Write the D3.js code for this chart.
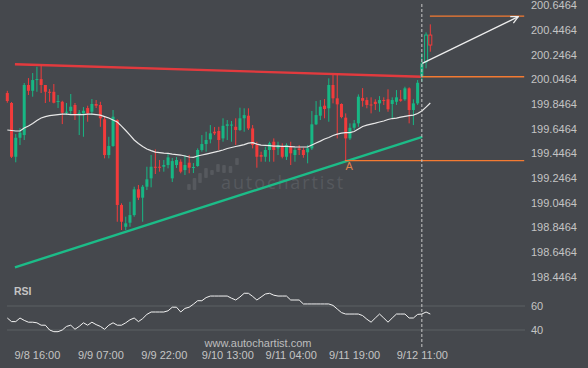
<!DOCTYPE html>
<html>
<head>
<meta charset="utf-8">
<script src="https://cdn.jsdelivr.net/npm/d3@7"></script>
<style>
  html, body { margin: 0; padding: 0; background: #45484d; }
  svg { display: block; }
</style>
</head>
<body>
<svg width="588" height="368"></svg>
<script>
// hourly candles, 9/8 09:00 .. 9/12 13:00
const opens = [199.927,199.846,199.410,199.564,199.586,199.992,199.945,200.032,200.040,199.992,
  199.937,199.937,199.856,199.856,199.767,199.781,199.830,199.748,199.762,199.805,
  199.775,199.838,199.830,199.714,199.424,199.497,199.708,199.019,198.842,198.875,
  198.937,199.146,199.078,199.167,199.235,199.329,199.329,199.329,199.343,199.235,
  199.343,199.370,199.302,199.362,199.321,199.335,199.465,199.513,199.551,199.613,
  199.619,199.559,199.661,199.663,199.653,199.627,199.722,199.743,199.640,199.505,
  199.424,199.410,199.465,199.532,199.478,199.491,199.410,199.491,199.424,199.478,
  199.465,199.446,199.478,199.673,199.743,199.824,199.803,199.992,199.884,199.838,
  199.727,199.559,199.645,199.681,199.886,199.870,199.834,199.856,199.843,199.870,
  199.876,199.838,199.856,199.876,199.876,199.965,199.789,199.843,200.059,200.181,
  200.397];
const highs = [199.945,199.854,199.594,199.643,200.008,200.048,200.089,200.140,200.154,199.992,
  199.959,200.000,199.911,199.864,199.846,199.919,199.846,199.789,199.813,199.824,
  199.878,199.870,199.856,199.735,199.572,199.789,199.714,199.032,198.924,199.045,
  199.167,199.181,199.181,199.329,199.424,199.470,199.384,199.384,199.438,199.400,
  199.408,199.389,199.424,199.424,199.359,199.478,199.586,199.613,199.667,199.651,
  199.653,199.722,199.708,199.700,199.722,199.808,199.803,199.803,199.667,199.532,
  199.451,199.491,199.532,199.559,199.532,199.519,199.519,199.532,199.484,199.505,
  199.484,199.505,199.781,199.862,199.870,199.878,200.046,200.073,200.079,199.843,
  199.762,199.681,199.708,199.916,199.967,199.892,199.892,199.876,199.902,199.892,
  199.957,199.892,199.951,199.951,199.978,199.973,199.876,200.032,200.249,200.419,
  200.484];
const lows = [199.848,199.400,199.365,199.505,199.546,199.911,199.897,199.937,199.927,199.846,
  199.856,199.843,199.805,199.675,199.748,199.748,199.708,199.586,199.572,199.694,
  199.748,199.805,199.653,199.397,199.397,199.491,198.883,198.816,198.816,198.842,
  198.924,199.059,198.883,199.140,199.162,199.270,199.289,199.289,199.316,199.205,
  199.319,199.276,199.262,199.276,199.278,199.329,199.451,199.451,199.519,199.586,
  199.465,199.532,199.546,199.532,199.505,199.619,199.613,199.627,199.478,199.321,
  199.370,199.370,199.370,199.370,199.424,199.397,199.384,199.343,199.370,199.424,
  199.402,199.357,199.465,199.667,199.708,199.722,199.694,199.843,199.559,199.722,
  199.378,199.546,199.627,199.653,199.816,199.803,199.762,199.789,199.775,199.830,
  199.775,199.722,199.830,199.856,199.864,199.681,199.667,199.830,200.018,200.127,
  200.262];
const closes = [199.862,199.410,199.564,199.605,199.992,199.945,200.032,200.040,199.992,199.937,
  199.929,199.848,199.862,199.767,199.775,199.816,199.756,199.767,199.783,199.762,
  199.838,199.824,199.722,199.424,199.497,199.735,199.019,198.883,198.870,198.937,
  199.146,199.078,199.167,199.227,199.329,199.321,199.321,199.343,199.405,199.375,
  199.384,199.289,199.343,199.321,199.327,199.465,199.513,199.546,199.600,199.600,
  199.546,199.661,199.673,199.671,199.627,199.722,199.748,199.640,199.505,199.410,
  199.410,199.465,199.519,199.465,199.505,199.410,199.505,199.438,199.465,199.465,
  199.424,199.478,199.673,199.748,199.816,199.797,199.992,199.884,199.835,199.732,
  199.559,199.645,199.681,199.897,199.864,199.830,199.826,199.838,199.870,199.862,
  199.795,199.870,199.892,199.864,199.965,199.789,199.843,200.010,200.168,200.397,
  200.316];
// moving average
const maValues = [199.627,199.623,199.619,199.619,199.643,199.659,199.679,199.704,199.724,199.736,
  199.744,199.748,199.752,199.756,199.755,199.752,199.752,199.751,199.752,199.755,
  199.756,199.752,199.748,199.736,199.724,199.708,199.692,199.659,199.623,199.586,
  199.546,199.517,199.493,199.473,199.460,199.448,199.444,199.440,199.438,199.432,
  199.428,199.424,199.416,199.408,199.405,199.416,199.424,199.432,199.440,199.448,
  199.456,199.465,199.477,199.485,199.493,199.501,199.509,199.521,199.525,199.513,
  199.505,199.503,199.500,199.497,199.497,199.495,199.494,199.492,199.490,199.489,
  199.489,199.489,199.505,199.521,199.537,199.554,199.566,199.582,199.594,199.602,
  199.605,199.606,199.615,199.635,199.655,199.667,199.675,199.683,199.692,199.700,
  199.712,199.720,199.724,199.732,199.738,199.743,199.748,199.761,199.781,199.813,
  199.846];
const rsiValues = [50,47,47,50,48,46.5,46.5,46,44,44,
  40,38.6,38.6,40,43,44,40.6,43,46,44,
  46.5,44.5,43,40.6,44,46,44,44,46,48.5,
  50,47,49.5,53,55,55,55,55,56,59,
  59,55,58,59,61.5,64.4,64.4,67,68.3,68.3,
  68.3,68.3,68.3,66.5,65,67.5,70.6,70.6,68,65,
  67.5,70,70.6,69,68.3,68.3,68.3,65,65,65,
  61.7,61.7,61.7,61.7,61.7,61.7,61.7,60.5,57.5,54.5,
  53.3,53.3,53.3,53.3,52,49,46.5,50,53.3,50,
  46.5,50,53.3,53.3,53.3,50,50,53,53.3,55,
  53.3];

const priceTicks = [198.4464,198.6464,198.8464,199.0464,199.2464,199.4464,
  199.6464,199.8464,200.0464,200.2464,200.4464,200.6464];
const rsiTicks = [40, 60];
const timeTickIdx = [7, 22, 37, 52, 67, 82, 98];
const timeTickLabels = ["9/8 16:00","9/9 07:00","9/9 22:00","9/10 13:00","9/11 04:00","9/11 19:00","9/12 11:00"];

// pattern drawing: [candle index, price]
const resistance = [[1.8, 200.160], [98, 200.059]];
const support = [[1.8, 198.513], [98.1, 199.572]];
const levelTop = [[99.9, 200.551], [122.2, 200.551]];
const levelMid = [[98, 200.059], [122.2, 200.059]];
const levelLow = [[79.8, 199.378], [122.2, 199.378]];
const forecast = [[98.1, 200.168], [120.8, 200.546]];
const pointA = [80.8, 199.33];
const breakIdx = 98;
const hollowFrom = 99;

const svg = d3.select("svg");
const font = "'Liberation Sans', Arial, sans-serif";

const x = d3.scaleLinear().domain([0, 100]).range([7.3, 430.3]);
const y = d3.scaleLinear().domain([198.4105, 200.6814]).range([280, 0]);
const yR = d3.scaleLinear().domain([40, 60]).range([330, 306]);

svg.append("rect").attr("width", 588).attr("height", 368).attr("fill", "#45484d");

// watermark
const wm = svg.append("g").attr("fill", "#56595e");
[[189, 184, 190], [194.5, 178, 190], [200, 173, 183], [206, 168, 178], [212, 170, 175],
 [218, 164, 172], [224, 165, 173], [230.5, 166, 173], [237, 158, 165]].forEach(b => {
  wm.append("rect").attr("x", b[0] - 1.8).attr("y", b[1]).attr("width", 3.6)
    .attr("height", b[2] - b[1]).attr("rx", 1);
});
wm.append("text").attr("x", 221).attr("y", 189).text("autochartist")
  .style("font-family", "'Open Sans', sans-serif").style("font-size", "18px")
  .style("letter-spacing", "1.9px");

// rsi grid
svg.append("g").selectAll("line").data(rsiTicks).enter().append("line")
  .attr("x1", 7).attr("x2", 525)
  .attr("y1", d => yR(d)).attr("y2", d => yR(d))
  .attr("stroke", "#5d6065").attr("stroke-width", 1);

const line = d3.line().x(d => x(d[0])).y(d => y(d[1]));

svg.append("path").attr("d", line(support)).attr("fill", "none")
  .attr("stroke", "#1cbc88").attr("stroke-width", 2.4);
svg.append("path").attr("d", line(resistance)).attr("fill", "none")
  .attr("stroke", "#f03a3d").attr("stroke-width", 2.4).attr("opacity", 0.92);

// candles
const candles = opens.map((o, i) => ({ i, o, h: highs[i], l: lows[i], c: closes[i] }));
const up = "#17b784", down = "#f23b3b";
const cg = svg.append("g").selectAll("g").data(candles).enter().append("g");
cg.append("line")
  .attr("x1", d => x(d.i)).attr("x2", d => x(d.i))
  .attr("y1", d => y(d.h)).attr("y2", d => y(d.l))
  .attr("stroke", d => d.c >= d.o ? up : down).attr("stroke-width", 1);
cg.append("rect")
  .attr("x", d => x(d.i) - 1.5)
  .attr("y", d => y(Math.max(d.o, d.c)))
  .attr("width", 3)
  .attr("height", d => Math.max(1, Math.abs(y(d.o) - y(d.c))))
  .attr("fill", d => d.i >= hollowFrom ? "#45484d" : (d.c >= d.o ? up : down))
  .attr("stroke", d => d.i >= hollowFrom ? (d.c >= d.o ? up : down) : "none")
  .attr("stroke-width", 1);

// moving average
svg.append("path")
  .attr("d", d3.line().x((d, i) => x(i)).y(d => y(d))(maValues))
  .attr("fill", "none").attr("stroke", "#e8e8e8").attr("stroke-width", 1.2);

// levels
const orange = "#f47a32";
[levelTop, levelMid, levelLow].forEach(l => {
  svg.append("path").attr("d", line(l)).attr("fill", "none")
    .attr("stroke", orange).attr("stroke-width", 1.3);
});
svg.append("text").attr("x", x(pointA[0])).attr("y", y(pointA[1]))
  .attr("text-anchor", "middle").attr("dy", "0.35em").text("A")
  .style("font-family", font).style("font-size", "11px").attr("fill", "#e0824a");

// forecast arrow
svg.append("defs").append("marker").attr("id", "arr")
  .attr("viewBox", "0 0 10 10").attr("refX", 9).attr("refY", 5)
  .attr("markerWidth", 9).attr("markerHeight", 9).attr("markerUnits", "userSpaceOnUse")
  .attr("orient", "auto")
  .append("path").attr("d", "M1,1 L9,5 L1,9").attr("fill", "none")
  .attr("stroke", "#eeeeee").attr("stroke-width", 1.4);
svg.append("path").attr("d", line(forecast)).attr("fill", "none")
  .attr("stroke", "#eeeeee").attr("stroke-width", 1.3).attr("marker-end", "url(#arr)");

// breakout time
svg.append("line").attr("x1", x(breakIdx)).attr("x2", x(breakIdx))
  .attr("y1", 4).attr("y2", 348)
  .attr("stroke", "#c8c8c8").attr("stroke-width", 1).attr("stroke-dasharray", "3,2");

// rsi line
svg.append("path")
  .attr("d", d3.line().x((d, i) => x(i)).y(d => yR(d))(rsiValues))
  .attr("fill", "none").attr("stroke", "#f2f2f2").attr("stroke-width", 1);

svg.append("text").attr("x", 14).attr("y", 295).text("RSI")
  .style("font-family", font).style("font-size", "10.5px").style("font-weight", "bold")
  .attr("fill", "#c4c4c4");

// axes
function styleAxis(g) {
  g.select(".domain").remove();
  g.selectAll("text").attr("fill", "#c4c4c4")
    .style("font-family", font).style("font-size", "11px");
}
svg.append("g").attr("transform", "translate(531,0)")
  .call(d3.axisRight(y).tickValues(priceTicks).tickSize(0).tickPadding(0)
    .tickFormat(d3.format(".4f")))
  .call(styleAxis)
  .call(g => g.selectAll("text").attr("dy", "0.42em"));
svg.append("g").attr("transform", "translate(531,0)")
  .call(d3.axisRight(yR).tickValues(rsiTicks).tickSize(0).tickPadding(0))
  .call(styleAxis);
svg.append("g").attr("transform", "translate(0,348)")
  .call(d3.axisBottom(x).tickValues(timeTickIdx).tickSize(0).tickPadding(3)
    .tickFormat((d, i) => timeTickLabels[i]))
  .call(styleAxis);

svg.append("text").attr("x", 258).attr("y", 347).attr("text-anchor", "middle")
  .text("www.autochartist.com")
  .style("font-family", font).style("font-size", "11px").attr("fill", "#bdbdbd");
</script>
</body>
</html>
